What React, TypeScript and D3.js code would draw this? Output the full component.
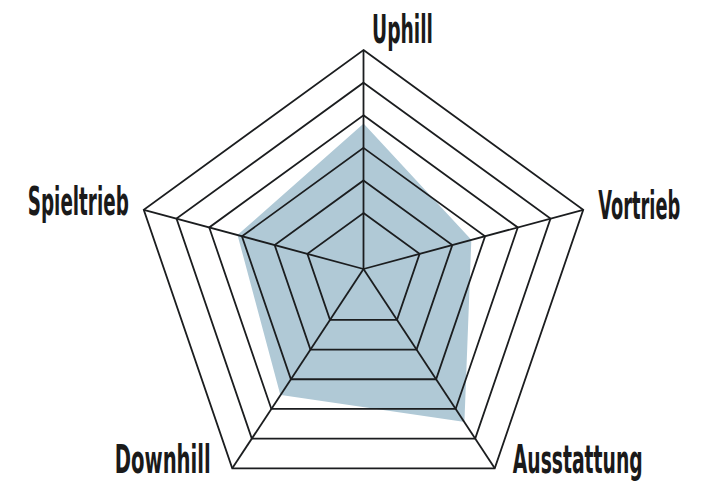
import React from "react";
import * as d3 from "d3";

// axes clockwise from the top
const axes = ["Uphill", "Vortrieb", "Ausstattung", "Downhill", "Spieltrieb"];
const scores = [3.7, 2.55, 4.4, 3.5, 3.1];
const levels = [1, 2, 3, 4, 5, 6];

// label placement relative to the outer vertex, and the condensed width of each label
const labelStyle = [
  { dx: 39, dy: -7, anchor: "middle", width: 61 },
  { dx: 15, dy: 9, anchor: "start", width: 82 },
  { dx: 18, dy: 5, anchor: "start", width: 130 },
  { dx: -21.5, dy: 5, anchor: "end", width: 96 },
  { dx: -15, dy: 5, anchor: "end", width: 101 },
];

const W = 712;
const H = 500;
const cx = 363.5;
const cy = 269;
const tilt = 0.053; // the drawing is slightly tilted, rings sag downward

const r = d3.scaleLinear().domain([0, 6]).range([24.6, 231.2]);

function pt(i: number, radius: number): [number, number] {
  const a = (i * 2 * Math.PI) / axes.length;
  const sx = 0.99 + 0.03 * Math.cos(a);
  return [cx + radius * Math.sin(a) * sx, cy - radius * (Math.cos(a) - tilt)];
}

export default function App() {
  const ring = d3.line().curve(d3.curveLinearClosed);
  const area = d3.line().curve(d3.curveLinearClosed);
  const maxR = r(d3.max(levels) as number);

  return (
    <svg
      width={W}
      height={H}
      style={{ position: "absolute", left: 0, top: 0, background: "#fff" }}
    >
      <path
        d={area(scores.map((v, i) => pt(i, r(v)))) || ""}
        fill="#b0c9d6"
        stroke="#b0c9d6"
        strokeWidth={2}
        strokeLinejoin="round"
      />
      {levels.map((l) => (
        <path
          key={l}
          d={ring(axes.map((_, i) => pt(i, r(l)))) || ""}
          fill="none"
          stroke="#1b1d1f"
          strokeWidth={1.8}
        />
      ))}
      {axes.map((_, i) => {
        const [x, y] = pt(i, maxR);
        return (
          <line key={i} x1={cx} y1={cy} x2={x} y2={y} stroke="#1b1d1f" strokeWidth={1.8} />
        );
      })}
      {axes.map((name, i) => {
        const [x, y] = pt(i, maxR);
        const o = labelStyle[i];
        return (
          <text
            key={name}
            x={x + o.dx}
            y={y + o.dy}
            textAnchor={o.anchor}
            textLength={o.width}
            lengthAdjust="spacingAndGlyphs"
            fontFamily={'"DejaVu Sans Condensed", "Liberation Sans", sans-serif'}
            fontWeight="bold"
            fontSize={39}
            fill="#1a1a1a"
          >
            {name}
          </text>
        );
      })}
    </svg>
  );
}
